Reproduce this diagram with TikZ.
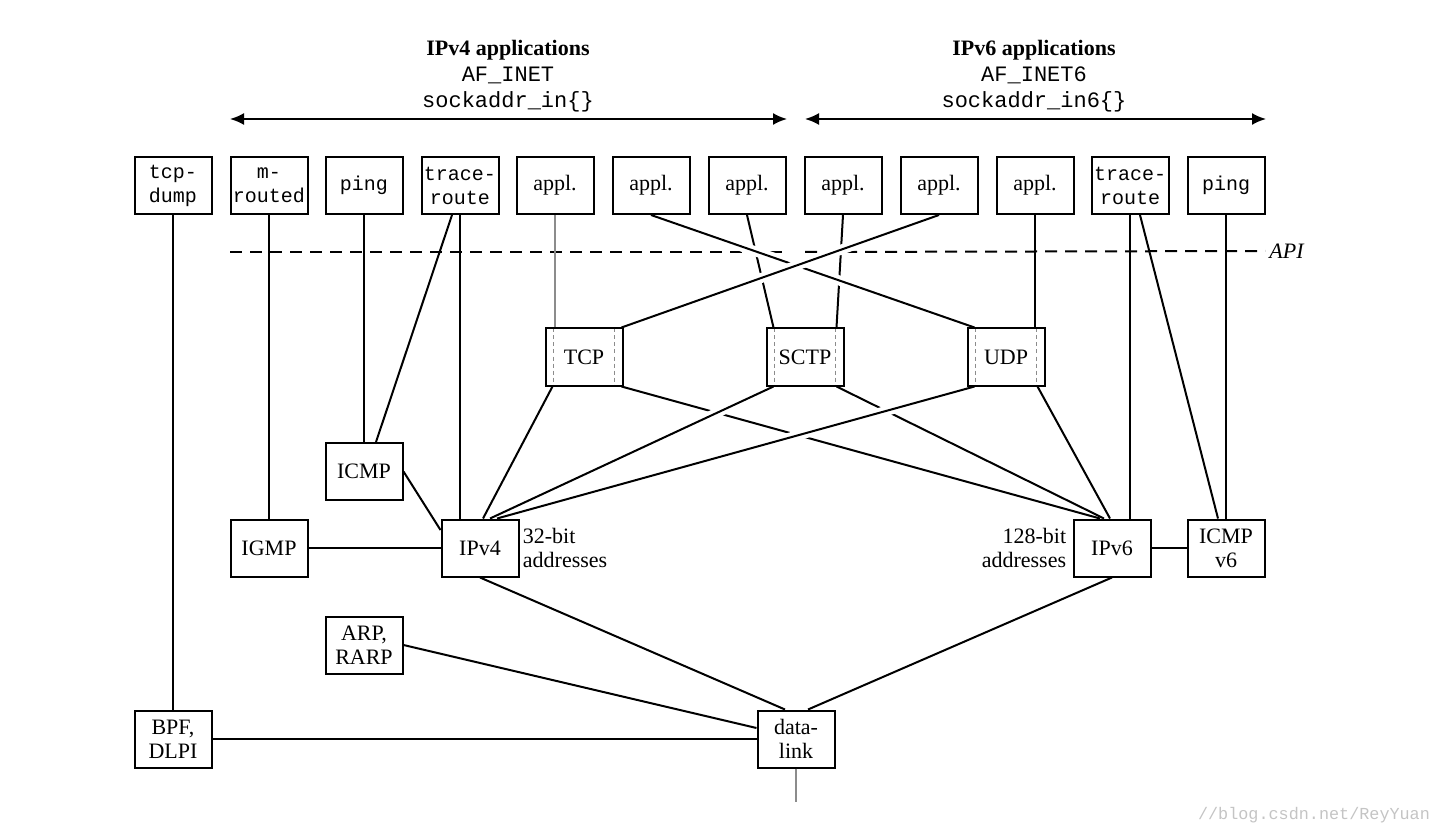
\documentclass[tikz,border=0pt]{standalone}
\usepackage{fontspec}
\setmainfont{Liberation Serif}
\setmonofont{Liberation Mono}
\usetikzlibrary{arrows,arrows.meta,positioning,calc}
\definecolor{lgrey}{HTML}{8C8C8C}
\definecolor{wgrey}{HTML}{C4C4C4}
\tikzstyle{l2}=[line width=1pt]
\tikzstyle{thin}=[line width=0.7pt, color=lgrey]
\tikzstyle{box}=[rectangle, draw=black, l2, minimum width=38.5pt, minimum height=28.5pt, inner sep=0pt, align=center]
\tikzstyle{prog}=[box, font=\ttfamily\fontsize{10}{12}\selectfont]
\tikzstyle{proto}=[box, path picture={
    \draw[lgrey, line width=0.7pt, dash pattern=on 2pt off 1.5pt]
      ([xshift=4pt]path picture bounding box.north west) -- ([xshift=4pt]path picture bounding box.south west)
      ([xshift=-4pt]path picture bounding box.north east) -- ([xshift=-4pt]path picture bounding box.south east);}]
\tikzstyle{over}=[l2, preaction={draw, white, line width=5pt, shorten <=15pt, shorten >=25pt}]
\tikzstyle{api}=[l2, dash pattern=on 6pt off 4pt]
\tikzstyle{head}=[align=center, font=\fontsize{11}{13}\selectfont]
\tikzstyle{span}=[l2, {Latex[length=7pt,width=6pt]}-{Latex[length=7pt,width=6pt]}]

\begin{document}
\begin{tikzpicture}[x=0.5pt, y=-0.5pt, font=\fontsize{11}{12}\selectfont]
    \useasboundingbox (0,0) rectangle (1446,834);

    % address families
    \node (head4) [head] at (508,76) {\textbf{IPv4 applications}\\ \texttt{AF\_INET}\\ \texttt{sockaddr\_in\{\}}};
    \node (head6) [head] at (1034,76) {\textbf{IPv6 applications}\\ \texttt{AF\_INET6}\\ \texttt{sockaddr\_in6\{\}}};
    \coordinate (v4l) at (230,119);
    \coordinate (v4r) at (787,119);
    \coordinate (v6l) at (805,119);
    \coordinate (v6r) at (1266,119);
    \draw[span] (v4l) -- (v4r);
    \draw[span] (v6l) -- (v6r);

    % applications
    \node (tcpdump) [prog] at (173,185.5) {tcp-\\dump};
    \node (mrouted) [prog] at (269,185.5) {m-\\routed};
    \node (ping4) [prog] at (364,185.5) {ping};
    \node (trace4) [prog] at (460,185.5) {trace-\\route};
    \node (appA) [box] at (555,185.5) {appl.};
    \node (appB) [box] at (651,185.5) {appl.};
    \node (appC) [box] at (747,185.5) {appl.};
    \node (appD) [box] at (843,185.5) {appl.};
    \node (appE) [box] at (939,185.5) {appl.};
    \node (appF) [box] at (1035,185.5) {appl.};
    \node (trace6) [prog] at (1130,185.5) {trace-\\route};
    \node (ping6) [prog] at (1226,185.5) {ping};

    % API line
    \coordinate (apiA) at (230,252);
    \coordinate (apiB) at (785,252);
    \coordinate (apiC) at (805,252);
    \node (api) [anchor=west, inner sep=2pt, font=\itshape\fontsize{11}{12}\selectfont] at (1265,251) {API};
    \draw[api] (apiA) -- (apiB);
    \draw[api] (apiC) -- (api.west);

    % transport
    \node (tcp) [proto] at (584,357) {TCP};
    \node (sctp) [proto] at (805,357) {SCTP};
    \node (udp) [proto] at (1006,357) {UDP};

    % network
    \node (icmp) [box] at (364,471.5) {ICMP};
    \node (igmp) [box] at (269,548) {IGMP};
    \node (ipv4) [box] at (480,548) {IPv4};
    \node (ipv6) [box] at (1112,548) {IPv6};
    \node (icmpv6) [box] at (1226,548) {ICMP\\v6};
    \node (bits4) [right=1.5pt of ipv4, align=left, inner sep=0pt] {32-bit\\addresses};
    \node (bits6) [left=3pt of ipv6, align=right, inner sep=0pt] {128-bit\\addresses};

    % link
    \node (arp) [box] at (364,645) {ARP,\\RARP};
    \node (bpf) [box] at (173,739) {BPF,\\DLPI};
    \node (dlink) [box] at (796,739) {data-\\link};
    \coordinate (wire) at (796,802);

    \draw[l2] (tcpdump) -- (bpf);
    \draw[l2] (mrouted) -- (igmp);
    \draw[l2] (ping4) -- (icmp);
    \draw[l2] ([xshift=-4pt]trace4.south) -- ([xshift=6pt]icmp.north);
    \draw[l2] (trace4.south) -- (trace4.south |- ipv4.north);
    \draw[thin] (appA.south) -- (appA.south |- tcp.north);
    \draw[l2] (appC.south) -- ([xshift=4pt]sctp.north west);
    \draw[l2] (appD.south) -- ([xshift=-4pt]sctp.north east);
    \draw[over] (appB.south) -- ([xshift=4pt]udp.north west);
    \draw[over] (appE.south) -- ([xshift=-1pt]tcp.north east);
    \draw[l2] (appF.south) -- (appF.south |- udp.north);
    \draw[l2] (trace6.south) -- (trace6.south |- ipv6.north);
    \draw[l2] ([xshift=5pt]trace6.south) -- ([xshift=-4pt]icmpv6.north);
    \draw[l2] (ping6) -- (icmpv6);

    \draw[l2] ([xshift=4pt]tcp.south west) -- ([xshift=1.5pt]ipv4.north);
    \draw[l2] ([xshift=-1pt]tcp.south east) -- ([xshift=-6pt]ipv6.north);
    \draw[l2] ([xshift=-4pt]sctp.south east) -- ([xshift=-4pt]ipv6.north);
    \draw[l2] ([xshift=-4pt]udp.south east) -- ([xshift=-1pt]ipv6.north);
    \draw[over] ([xshift=4pt]sctp.south west) -- ([xshift=5pt]ipv4.north);
    \draw[over] ([xshift=4pt]udp.south west) -- ([xshift=8.5pt]ipv4.north);

    \draw[l2] (icmp.east) -- ([yshift=9pt]ipv4.west);
    \draw[l2] (igmp) -- (ipv4);
    \draw[l2] (ipv6) -- (icmpv6);
    \draw[l2] (ipv4.south) -- ([xshift=-5.5pt]dlink.north);
    \draw[l2] (ipv6.south) -- ([xshift=6pt]dlink.north);
    \draw[l2] (arp.east) -- ([yshift=5.5pt]dlink.west);
    \draw[l2] (bpf) -- (dlink);
    \draw[thin] (dlink) -- (wire);

    \node (mark) [anchor=east, text=wgrey, font=\ttfamily\fontsize{8.4}{10}\selectfont] at (1437,815) {//blog.csdn.net/ReyYuan};
\end{tikzpicture}
\end{document}
